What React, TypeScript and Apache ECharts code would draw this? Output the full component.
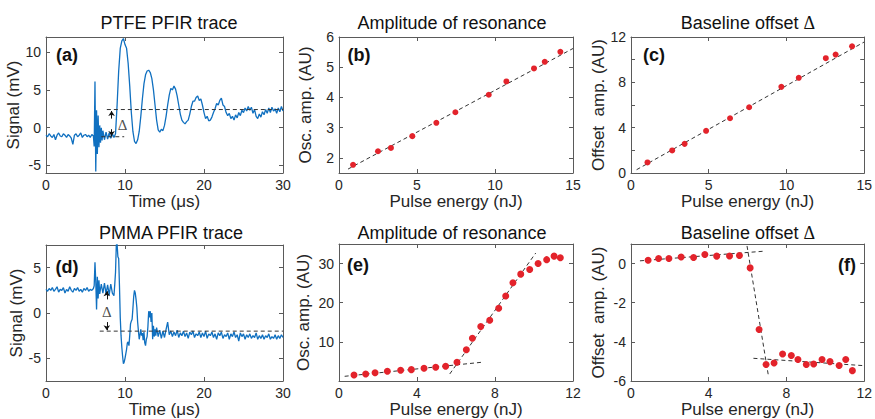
import React, { useEffect, useRef } from 'react';
import * as echarts from 'echarts';

// ---------- Data ----------
const traceA: [number, number][] = [
  [0.0, -1.0], [0.2, -1.2], [0.4, -0.8], [0.6, -1.1], [0.8, -1.3], [1.0, -0.9], [1.2, -1.6], [1.4, -1.0],
  [1.6, -0.7], [1.8, -1.1], [2.0, -1.2], [2.2, -0.8], [2.4, -1.0], [2.6, -1.3], [2.8, -0.9], [3.0, -1.1],
  [3.2, -1.4], [3.4, -2.2], [3.6, -1.0], [3.8, -0.8], [4.0, -1.2], [4.2, -1.0], [4.4, -0.7], [4.6, -1.3],
  [4.8, -1.0], [5.0, -0.9], [5.2, -1.2], [5.4, -1.0], [5.6, -1.3], [5.8, -0.9], [6.0, -1.1],
  [6.1, -2.5], [6.2, 6.1], [6.3, -5.8], [6.4, 2.3], [6.5, -3.5], [6.6, 1.6], [6.7, -2.6], [6.8, 0.3],
  [6.9, -2.0], [7.0, 0.0], [7.1, -1.7], [7.2, -0.4], [7.4, -1.6], [7.6, -0.6], [7.8, -1.5], [8.0, -0.7],
  [8.2, -1.4], [8.4, -0.8], [8.6, -1.3], [8.8, -0.8],
  [9.0, 3.0], [9.2, 7.5], [9.4, 10.5], [9.6, 11.5], [9.8, 11.8], [10.0, 11.0], [10.2, 10.5], [10.4, 8.5],
  [10.6, 5.5], [10.8, 2.0], [11.0, -0.5], [11.2, -1.8], [11.4, -2.1], [11.6, -1.6], [11.8, -0.5], [12.0, 1.5],
  [12.2, 3.8], [12.4, 5.8], [12.6, 7.0], [12.8, 7.5], [13.0, 7.6], [13.2, 7.3], [13.4, 6.5], [13.6, 5.0],
  [13.8, 3.0], [14.0, 1.0], [14.2, -0.3], [14.4, -0.6], [14.6, -0.2], [14.8, -0.4], [15.0, 0.3], [15.2, 1.5],
  [15.4, 3.0], [15.6, 4.3], [15.8, 5.2], [16.0, 5.0], [16.2, 5.5], [16.4, 5.1], [16.6, 4.2], [16.8, 3.0],
  [17.0, 1.8], [17.2, 1.0], [17.4, 0.7], [17.6, 0.5], [17.8, 0.8], [18.0, 1.0], [18.2, 1.8], [18.4, 2.8],
  [18.6, 3.5], [18.8, 3.5], [19.0, 4.0], [19.2, 4.2], [19.4, 3.6], [19.6, 3.8], [19.8, 3.0], [20.0, 2.0],
  [20.2, 1.2], [20.4, 1.5], [20.6, 0.9], [20.8, 1.0], [21.0, 1.4], [21.2, 2.0], [21.4, 2.5], [21.6, 3.2],
  [21.8, 3.0], [22.0, 3.6], [22.2, 3.9], [22.4, 3.0], [22.6, 2.8], [22.8, 2.0], [23.0, 1.6], [23.2, 1.9],
  [23.4, 1.2], [23.6, 1.5], [23.8, 1.0], [24.0, 1.7], [24.2, 1.3], [24.4, 2.0], [24.6, 1.6], [24.8, 2.3],
  [25.0, 2.0], [25.2, 2.6], [25.4, 2.2], [25.6, 2.8], [25.8, 2.3], [26.0, 2.7], [26.2, 1.9], [26.4, 2.4],
  [26.6, 1.5], [26.8, 1.2], [27.0, 1.8], [27.2, 1.4], [27.4, 2.1], [27.6, 1.7], [27.8, 2.4], [28.0, 1.9],
  [28.2, 2.6], [28.4, 2.0], [28.6, 2.7], [28.8, 2.2], [29.0, 2.5], [29.2, 1.9], [29.4, 2.6], [29.6, 2.1],
  [29.8, 2.8], [30.0, 2.2],
];

const traceD: [number, number][] = [
  [0.0, 2.6], [0.2, 2.4], [0.4, 2.7], [0.6, 2.5], [0.8, 2.8], [1.0, 2.4], [1.2, 2.6], [1.4, 2.9],
  [1.6, 2.3], [1.8, 2.6], [2.0, 2.5], [2.2, 2.8], [2.4, 2.2], [2.6, 2.6], [2.8, 2.4], [3.0, 2.9],
  [3.2, 2.5], [3.4, 2.3], [3.6, 2.7], [3.8, 2.5], [4.0, 2.8], [4.2, 2.4], [4.4, 2.6], [4.6, 2.3],
  [4.8, 2.7], [5.0, 2.5], [5.2, 2.8], [5.4, 2.4], [5.6, 2.6], [5.8, 2.5], [6.0, 2.7],
  [6.1, 3.0], [6.2, 5.6], [6.3, 3.5], [6.4, 0.4], [6.5, 4.0], [6.6, 1.6], [6.7, 3.6], [6.8, 2.1],
  [7.0, 3.2], [7.2, 2.2], [7.4, 3.3], [7.6, 2.1], [7.8, 3.1], [8.0, 2.0], [8.2, 3.2], [8.4, 2.2],
  [8.6, 1.9], [8.7, 3.1], [8.8, 4.5], [8.9, 7.5], [9.0, 7.6], [9.1, 6.2], [9.2, 6.0],
  [9.3, 3.0], [9.4, -0.5], [9.5, -2.5], [9.6, -3.8], [9.7, -4.8], [9.8, -5.6], [9.9, -5.4], [10.0, -5.0],
  [10.1, -4.5], [10.2, -4.0], [10.3, -3.3], [10.4, -3.2], [10.5, -3.6], [10.6, -2.5], [10.7, -1.2], [10.8, -0.9],
  [10.9, -0.7], [11.0, 0.5], [11.1, 1.8], [11.2, 2.5], [11.3, 2.2], [11.4, 1.5], [11.5, 0.6], [11.6, -1.0],
  [11.7, -2.0], [11.8, -2.9], [11.9, -2.4], [12.0, -1.8], [12.1, -2.5], [12.2, -2.2], [12.3, -3.0], [12.4, -2.1],
  [12.5, -3.3], [12.6, -3.6], [12.7, -2.9], [12.8, -2.6], [12.9, -1.5], [13.0, 0.2], [13.1, -0.5], [13.2, 0.2],
  [13.3, -1.0], [13.4, 0.0], [13.5, -2.9], [13.6, -1.4], [13.7, -2.6], [13.8, -1.8], [13.9, -2.5], [14.0, -1.6],
  [14.2, -2.6], [14.4, -1.9], [14.6, -2.8], [14.8, -2.0], [15.0, -2.7], [15.2, -1.8], [15.4, -1.0], [15.6, -2.4],
  [15.8, -2.0], [16.0, -2.6], [16.2, -2.1], [16.4, -2.5], [16.6, -1.9], [16.8, -2.7], [17.0, -2.2], [17.2, -2.5],
  [17.4, -2.0], [17.6, -2.6], [17.8, -2.2], [18.0, -2.8], [18.2, -2.1], [18.4, -2.4], [18.6, -2.0], [18.8, -2.7],
  [19.0, -2.3], [19.2, -2.5], [19.4, -2.1], [19.6, -2.7], [19.8, -2.2], [20.0, -2.6], [20.2, -2.0], [20.4, -2.8],
  [20.6, -2.3], [20.8, -2.5], [21.0, -2.1], [21.2, -2.7], [21.4, -2.3], [21.6, -2.9], [21.8, -2.2], [22.0, -2.5],
  [22.2, -2.1], [22.4, -2.8], [22.6, -2.4], [22.8, -2.6], [23.0, -2.2], [23.2, -2.9], [23.4, -2.3], [23.6, -2.6],
  [23.8, -2.1], [24.0, -2.7], [24.2, -2.4], [24.4, -3.1], [24.6, -2.2], [24.8, -2.6], [25.0, -2.3], [25.2, -2.9],
  [25.4, -2.4], [25.6, -2.7], [25.8, -2.3], [26.0, -2.8], [26.2, -2.5], [26.4, -2.7], [26.6, -2.2], [26.8, -2.9],
  [27.0, -2.5], [27.2, -2.8], [27.4, -2.4], [27.6, -2.9], [27.8, -2.5], [28.0, -2.7], [28.2, -2.3], [28.4, -2.9],
  [28.6, -2.6], [28.8, -2.8], [29.0, -2.4], [29.2, -2.9], [29.4, -2.5], [29.6, -2.8], [29.8, -2.4], [30.0, -2.7],
];

const pointsB: [number, number][] = [
  [0.9, 1.77], [2.5, 2.22], [3.33, 2.33], [4.7, 2.72], [6.24, 3.16], [7.46, 3.51],
  [9.6, 4.09], [10.73, 4.53], [12.5, 4.96], [13.19, 5.18], [14.19, 5.51],
];
const fitB: [number, number][] = [[0.58, 1.63], [15, 5.62]];

const pointsC: [number, number][] = [
  [1.06, 0.93], [2.65, 1.99], [3.45, 2.57], [4.83, 3.72], [6.37, 4.83], [7.6, 5.8],
  [9.67, 7.6], [10.79, 8.4], [12.53, 10.13], [13.16, 10.45], [14.22, 11.18],
];
const fitC: [number, number][] = [[0.36, 0.29], [15, 11.56]];

const pointsE: [number, number][] = [
  [0.77, 1.54], [1.37, 1.8], [1.85, 2.1], [2.48, 2.5], [3.16, 2.74], [3.71, 2.9], [4.36, 3.25],
  [4.96, 3.5], [5.47, 3.77], [6.05, 4.8], [6.53, 8.0], [6.84, 10.9], [7.27, 13.9], [7.73, 15.5],
  [8.19, 18.6], [8.55, 21.7], [8.92, 25.1], [9.32, 27.3], [9.78, 28.5], [10.21, 30.0], [10.65, 31.0],
  [11.03, 31.9], [11.35, 31.5],
];
const fitE1: [number, number][] = [[0.29, 1.2], [7.35, 4.8]];
const fitE2: [number, number][] = [[5.68, 1.8], [10.09, 32.7]];

const pointsF: [number, number][] = [
  [0.88, 0.17], [1.42, 0.26], [1.95, 0.26], [2.58, 0.34], [3.22, 0.31], [3.8, 0.46], [4.41, 0.38],
  [5.07, 0.39], [5.58, 0.41], [6.13, -0.22], [6.59, -3.37], [6.95, -5.16], [7.36, -5.08], [7.8, -4.62],
  [8.25, -4.7], [8.59, -4.9], [9.02, -5.16], [9.4, -5.13], [9.83, -4.9], [10.24, -5.01], [10.71, -5.21],
  [11.05, -4.9], [11.39, -5.47],
];
const fitF1: [number, number][] = [[0.46, 0.14], [6.81, 0.63]];
const fitF2: [number, number][] = [[5.97, 0.9], [7.07, -5.73]];
const fitF3: [number, number][] = [[6.3, -4.84], [11.9, -5.21]];

const dashA1: [number, number][] = [[7.7, 2.4], [30, 2.4]];
const dashA2: [number, number][] = [[7.0, -1.2], [9.9, -1.2]];
const dashD: [number, number][] = [[6.8, -2.0], [30, -2.0]];
const arrowsA: [number, number][][] = [[[8.3, 1.2], [8.3, 2.2]], [[8.3, -0.2], [8.3, -1.1]]];
const arrowsD: [number, number][][] = [[[7.7, 1.5], [7.7, 2.4]], [[7.7, -1.0], [7.7, -1.9]]];
const deltaA: [number, number] = [9.7, 0.4];
const deltaD: [number, number] = [7.7, 0.1];

const xTicks15 = [0, 5, 10, 15];
const xTicks30 = [0, 10, 20, 30];
const xTicks12 = [0, 4, 8, 12];
const yTicksA = [-5, 0, 5, 10];
const yTicksB = [2, 3, 4, 5, 6];
const yTicksC = [0, 2, 4, 6, 8, 10, 12];
const yLabelsC = [0, 4, 8, 12];
const yTicksD = [-5, 0, 5];
const yTicksE = [10, 20, 30];
const yTicksF = [-6, -4, -2, 0];

const titles = ['PTFE PFIR trace', 'Amplitude of resonance', 'Baseline offset {d|Δ}', 'PMMA PFIR trace', 'Amplitude of resonance', 'Baseline offset {d|Δ}'];
const panelTags = ['(a)', '(b)', '(c)', '(d)', '(e)', '(f)'];

// ---------- Layout / style ----------
const FONT = 'Liberation Sans, Arial, sans-serif';
const AXIS_COLOR = '#5a5a5a';
const TEXT_COLOR = '#262626';

interface Panel {
  grid: { left: number; top: number; width: number; height: number };
  xMin: number; xMax: number; xTicks: number[];
  yMin: number; yMax: number; yTicks: number[]; yLabels?: number[];
  xName: string; yName: string; yGap: number; dot: number;
  titleX: number; titleY: number; tagX: number; tagY: number;
}

const panels: Panel[] = [
  { grid: { left: 46, top: 37, width: 237, height: 136 }, xMin: 0, xMax: 30, xTicks: xTicks30, yMin: -6, yMax: 12, yTicks: yTicksA,
    xName: 'Time (μs)', yName: 'Signal (mV)', yGap: 21, dot: 0, titleX: 169, titleY: 23, tagX: 67, tagY: 55 },
  { grid: { left: 339, top: 37, width: 234, height: 136 }, xMin: 0, xMax: 15, xTicks: xTicks15, yMin: 1.5, yMax: 6, yTicks: yTicksB,
    xName: 'Pulse energy (nJ)', yName: 'Osc. amp. (AU)', yGap: 25, dot: 6, titleX: 452, titleY: 23, tagX: 359, tagY: 55 },
  { grid: { left: 631, top: 37, width: 236, height: 136 }, xMin: 0, xMax: 15, xTicks: xTicks15, yMin: 0, yMax: 12, yTicks: yTicksC, yLabels: yLabelsC,
    xName: 'Pulse energy (nJ)', yName: 'Offset  amp. (AU)', yGap: 24, dot: 6, titleX: 748, titleY: 23, tagX: 654, tagY: 55 },
  { grid: { left: 46, top: 245, width: 237, height: 137 }, xMin: 0, xMax: 30, xTicks: xTicks30, yMin: -7.5, yMax: 7.5, yTicks: yTicksD,
    xName: 'Time (μs)', yName: 'Signal (mV)', yGap: 21, dot: 0, titleX: 171, titleY: 233, tagX: 67, tagY: 267 },
  { grid: { left: 339, top: 244, width: 234, height: 138 }, xMin: 0, xMax: 12, xTicks: xTicks12, yMin: 0, yMax: 35, yTicks: yTicksE,
    xName: 'Pulse energy (nJ)', yName: 'Osc. amp. (AU)', yGap: 27, dot: 7, titleX: 452, titleY: 233, tagX: 358, tagY: 265 },
  { grid: { left: 631, top: 244, width: 236, height: 138 }, xMin: 0, xMax: 12, xTicks: xTicks12, yMin: -6, yMax: 1, yTicks: yTicksF,
    xName: 'Pulse energy (nJ)', yName: 'Offset  amp. (AU)', yGap: 24, dot: 7, titleX: 748, titleY: 233, tagX: 847, tagY: 265 },
];

function buildOption() {
  const grid: any[] = [];
  const xAxis: any[] = [];
  const yAxis: any[] = [];
  const graphic: any[] = [];
  const lineStyle = { color: AXIS_COLOR, width: 1 };

  panels.forEach((p, i) => {
    grid.push({ ...p.grid, containLabel: false });
    xAxis.push({
      type: 'value', gridIndex: i, position: 'bottom', min: p.xMin, max: p.xMax,
      axisLine: { show: true, onZero: false, lineStyle },
      axisTick: { show: true, inside: true, length: 4, customValues: p.xTicks, lineStyle },
      axisLabel: { customValues: p.xTicks, fontSize: 14, color: TEXT_COLOR, margin: 5, fontFamily: FONT },
      splitLine: { show: false },
      name: p.xName, nameLocation: 'middle', nameGap: 20,
      nameTextStyle: { fontSize: 17, color: TEXT_COLOR, fontFamily: FONT },
    });
    xAxis.push({
      type: 'value', gridIndex: i, position: 'top', min: p.xMin, max: p.xMax,
      axisLine: { show: true, onZero: false, lineStyle },
      axisTick: { show: true, inside: true, length: 4, customValues: p.xTicks, lineStyle },
      axisLabel: { show: false }, splitLine: { show: false },
    });
    yAxis.push({
      type: 'value', gridIndex: i, position: 'left', min: p.yMin, max: p.yMax,
      axisLine: { show: true, onZero: false, lineStyle },
      axisTick: { show: true, inside: true, length: 4, customValues: p.yTicks, lineStyle },
      axisLabel: { customValues: p.yLabels ?? p.yTicks, fontSize: 14, color: TEXT_COLOR, margin: 5, fontFamily: FONT },
      splitLine: { show: false },
      name: p.yName, nameLocation: 'middle', nameGap: p.yGap,
      nameTextStyle: { fontSize: 17, color: TEXT_COLOR, fontFamily: FONT },
    });
    yAxis.push({
      type: 'value', gridIndex: i, position: 'right', min: p.yMin, max: p.yMax,
      axisLine: { show: true, onZero: false, lineStyle },
      axisTick: { show: true, inside: true, length: 4, customValues: p.yTicks, lineStyle },
      axisLabel: { show: false }, splitLine: { show: false },
    });
    graphic.push({
      type: 'text', x: p.titleX, y: p.titleY, silent: true,
      style: {
        text: titles[i], fontSize: 18, fontFamily: FONT, fill: '#111', align: 'center', verticalAlign: 'middle',
        rich: { d: { fontFamily: 'Liberation Serif, serif', fontSize: 18, fill: '#111' } },
      },
    });
    graphic.push({
      type: 'text', x: p.tagX, y: p.tagY, silent: true,
      style: { text: panelTags[i], fontSize: 18, fontWeight: 'bold', fontFamily: FONT, fill: '#111', align: 'center', verticalAlign: 'middle' },
    });
  });

  const ax = (i: number) => ({ xAxisIndex: 2 * i, yAxisIndex: 2 * i });
  const traceStyle = { color: '#1070c0', width: 1.3 };
  const dash = (i: number, data: [number, number][]) => ({
    type: 'line', ...ax(i), data, showSymbol: false, symbol: 'none', silent: true, z: 3,
    lineStyle: { color: '#333', width: 1, type: [4, 3] },
  });
  const scatter = (i: number, data: [number, number][]) => ({
    type: 'scatter', ...ax(i), data, symbolSize: panels[i].dot, silent: true, z: 4,
    itemStyle: { color: '#e3232b', opacity: 1 },
  });
  const arrows = (i: number, list: [number, number][][]) => ({
    type: 'lines', coordinateSystem: 'cartesian2d', ...ax(i), silent: true, z: 5,
    symbol: ['none', 'arrow'], symbolSize: 5,
    lineStyle: { color: '#111', width: 1, opacity: 1 },
    data: list.map((c) => ({ coords: c })),
  });
  const delta = (i: number, pt: [number, number]) => ({
    type: 'scatter', ...ax(i), data: [pt], symbolSize: 1, silent: true, z: 6,
    itemStyle: { color: 'transparent' },
    label: { show: true, position: 'inside', formatter: 'Δ', fontFamily: 'Liberation Serif, serif', fontSize: 15, color: '#222' },
  });

  const series: any[] = [
    dash(0, dashA1), dash(0, dashA2),
    { type: 'line', ...ax(0), data: traceA, showSymbol: false, symbol: 'none', lineStyle: traceStyle, silent: true, z: 2 },
    arrows(0, arrowsA), delta(0, deltaA),
    dash(1, fitB), scatter(1, pointsB),
    dash(2, fitC), scatter(2, pointsC),
    dash(3, dashD),
    { type: 'line', ...ax(3), data: traceD, showSymbol: false, symbol: 'none', lineStyle: traceStyle, silent: true, z: 2 },
    arrows(3, arrowsD), delta(3, deltaD),
    dash(4, fitE1), dash(4, fitE2), scatter(4, pointsE),
    dash(5, fitF1), dash(5, fitF2), dash(5, fitF3), scatter(5, pointsF),
  ];

  return { animation: false, backgroundColor: '#fff', grid, xAxis, yAxis, series, graphic };
}

export default function App() {
  const ref = useRef<HTMLDivElement>(null);
  useEffect(() => {
    if (!ref.current) return;
    const chart = echarts.init(ref.current, null, { renderer: 'svg' });
    chart.setOption(buildOption() as any);
    return () => chart.dispose();
  }, []);
  return (
    <div
      ref={ref}
      style={{ position: 'fixed', left: 0, top: 0, width: 875, height: 419, background: '#fff' }}
    />
  );
}
